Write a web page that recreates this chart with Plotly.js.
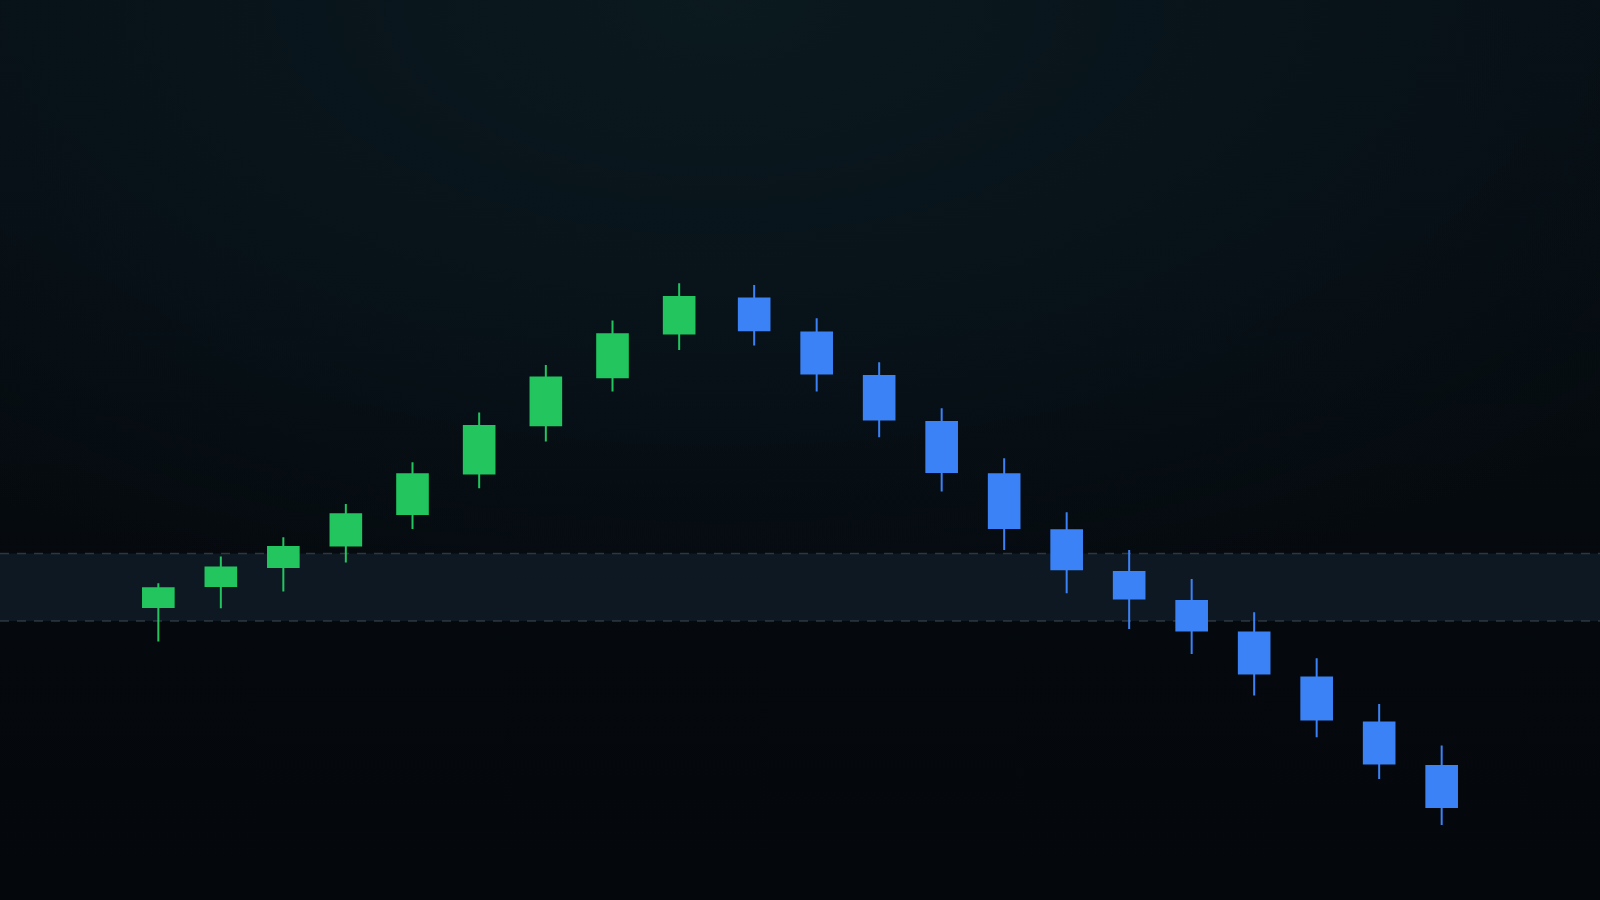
<!DOCTYPE html>
<html>
<head>
<meta charset="utf-8">
<script src="https://cdn.plot.ly/plotly-3.0.1.min.js"></script>
<style>
  html, body {
    margin: 0;
    padding: 0;
    width: 1600px;
    height: 900px;
    overflow: hidden;
    background: radial-gradient(ellipse 75% 70% at 45% 0%, #0b1a1f 0%, #08131a 45%, rgba(4,7,11,0) 100%),
                linear-gradient(#070e13, #04070b);
  }
  #chart { width: 1600px; height: 900px; }
</style>
</head>
<body>
<div id="chart"></div>
<script>
// minutes from the first bar
const minutes = [0, 15, 30, 45, 61, 77, 93, 109, 125, 143, 158, 173, 188, 203, 218, 233, 248, 263, 278, 293, 308];

const open  = [100.70, 101.75, 102.70, 103.77, 105.35, 107.37, 109.79, 112.19, 114.37,
               116.12, 114.42, 112.25, 109.95, 107.34, 104.54, 102.45, 101.00, 99.42, 97.17, 94.92, 92.75];
const high  = [101.89, 103.22, 104.19, 105.85, 107.94, 110.42, 112.80, 115.02, 116.89,
               116.80, 115.14, 112.94, 110.64, 108.14, 105.44, 103.55, 102.10, 100.44, 98.14, 95.85, 93.77];
const low   = [98.97, 100.64, 101.47, 102.92, 104.60, 106.64, 108.97, 111.47, 113.55,
               113.77, 111.47, 109.19, 106.47, 103.55, 101.39, 99.60, 98.35, 96.27, 94.19, 92.10, 89.80];
const close = [101.64, 102.67, 103.70, 105.34, 107.34, 109.75, 112.17, 114.34, 116.20,
               114.54, 112.37, 110.07, 107.45, 104.65, 102.59, 101.12, 99.52, 97.37, 95.07, 92.87, 90.70];

// shaded zone
const zoneLow = 100.0;
const zoneHigh = 103.38;

const upColor = "#22c55e";
const downColor = "#3b82f6";
const zoneFill = "rgba(17, 27, 39, 0.85)";
const zoneEdge = "rgba(72, 80, 92, 0.6)";

const trace = {
    type: "candlestick",
    x: minutes,
    open: open,
    high: high,
    low: low,
    close: close,
    increasing: {line: {color: upColor, width: 2}, fillcolor: upColor},
    decreasing: {line: {color: downColor, width: 2}, fillcolor: downColor},
    hoverinfo: "none",
    showlegend: false
};

const zoneLine = (y) => ({
    type: "line",
    xref: "paper", x0: 0, x1: 1,
    yref: "y", y0: y, y1: y,
    line: {color: zoneEdge, width: 1.5, dash: "9px,8px"},
    layer: "below"
});

const layout = {
    width: 1600,
    height: 900,
    margin: {l: 0, r: 0, t: 0, b: 0},
    paper_bgcolor: "rgba(0,0,0,0)",
    plot_bgcolor: "rgba(0,0,0,0)",
    showlegend: false,
    xaxis: {
        visible: false,
        range: [-38, 346],
        rangeslider: {visible: false},
        showgrid: false,
        zeroline: false,
        fixedrange: true
    },
    yaxis: {
        visible: false,
        range: [86.05, 131.05],
        showgrid: false,
        zeroline: false,
        fixedrange: true
    },
    shapes: [
        {
            type: "rect",
            xref: "paper", x0: 0, x1: 1,
            yref: "y", y0: zoneLow, y1: zoneHigh,
            fillcolor: zoneFill,
            line: {width: 0},
            layer: "below"
        },
        zoneLine(zoneLow),
        zoneLine(zoneHigh)
    ]
};

const plotConfig = {responsive: false, displayModeBar: false, staticPlot: true};
Plotly.newPlot("chart", [trace], layout, plotConfig);
</script>
</body>
</html>
